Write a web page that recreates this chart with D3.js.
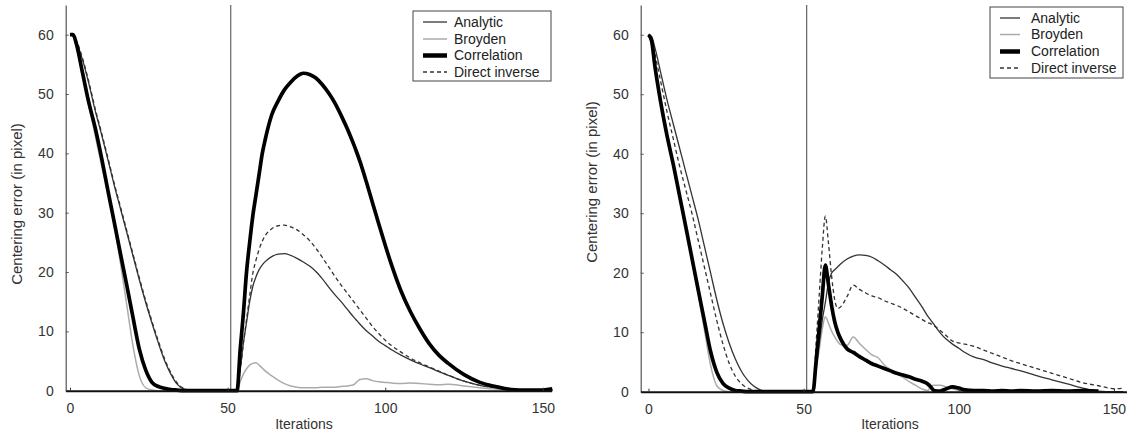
<!DOCTYPE html>
<html><head><meta charset="utf-8">
<script src="https://cdn.jsdelivr.net/npm/d3@7"></script>
<style>
body{margin:0;background:#fff}
svg{display:block}
text{font-family:"Liberation Sans",Arial,Helvetica,sans-serif}
</style></head>
<body><svg id="c" width="1127" height="436"></svg>
<script>
// ---------- DATA ----------
const iterations = [0,1,2,4,6,8,10,12,14,16,18,20,22,24,26,28,30,32,34,36,38,40,45,50,53,
  54,55,56,57,58,59,60,61,62,64,66,68,70,72,74,76,78,80,82,84,86,88,90,91,92,94,96,98,100,102,105,108,111,114,117,120,125,130,135,140,145,150,153];

const seriesNames = ["Analytic","Broyden","Correlation","Direct inverse"];
const xTicks = [0,50,100,150];
const yTicks = [0,10,20,30,40,50,60];
const switchIteration = 51;

// Left panel
const leftAnalytic = [60,59.8,58.8,55.7,51.7,47.2,43.2,39,34.7,30.7,26.7,22.7,18.7,14.9,11.4,8.1,5.1,2.8,1.1,0.3,0.1,0,0,0,0,
  3.5,8,11.5,15,17.6,19.2,20.4,21.2,21.8,22.6,23,23.1,22.8,22.3,21.7,21,20.1,18.9,17.5,16.2,15,13.7,12.4,11.8,11.2,10.1,9.2,8.3,7.6,6.9,6.0,5.2,4.5,3.9,3.2,2.6,1.6,0.9,0.5,0.2,0.1,0,0.1];
const leftBroyden = [60,60,58,53,48,43,38,33.5,28,21.5,14.5,7.5,2.5,0.5,0.1,0,0,0,0,0,0,0,0,0,0,
  1.5,2.8,3.7,4.3,4.6,4.7,4.3,3.8,3.3,2.5,1.8,1.2,0.8,0.6,0.5,0.5,0.5,0.6,0.6,0.6,0.7,0.8,1.0,1.5,1.9,2.0,1.7,1.5,1.4,1.3,1.2,1.3,1.2,1.1,1.0,1.1,0.8,0.5,0.3,0.2,0.1,0.1,0.1];
const leftCorrelation = [60,60,58.5,53.5,48.5,44.3,39.3,33.8,28.5,23.1,17.8,12.3,7.0,3.5,1.4,0.7,0.4,0.2,0.1,0,0,0,0,0,0,
  7,13,20,25,29.5,33,36.5,40,42.5,46.5,48.8,50.7,52,53,53.5,53.3,52.7,51.6,50.2,48.5,46.4,44.1,41.5,40.1,38.6,35.2,31.6,28,24.5,21.2,16.8,13.3,10.4,7.9,6.0,4.6,2.7,1.4,0.7,0.2,0.1,0.1,0.3];
const leftDirect = [60,59.8,59,56,52,47.5,43.5,39.3,35,31,27,23,19,15.2,11.7,8.4,5.4,3.0,1.3,0.4,0.1,0,0,0,0,
  3.5,8,12,16,19.8,22,23.8,25.2,26.2,27.3,27.8,27.9,27.6,27.1,26.3,25.3,24,22.5,20.9,19.3,17.8,16.4,15,14.3,13.6,12.2,10.8,9.6,8.5,7.6,6.5,5.5,4.7,4.0,3.3,2.6,1.6,0.9,0.5,0.2,0.1,0,0.1];

// Right panel
const rightAnalytic = [60,59.7,58,53.5,49,45,41,37,33,29,24.5,20,15.5,11.5,8.2,5.5,3.4,1.9,0.9,0.3,0,0,0,0,0,
  4,8,12,15,18.3,19.9,20.5,21,21.5,22.3,22.8,23,22.9,22.6,22,21.3,20.5,19.7,18.6,17.4,15.9,14.4,12.7,12,11.3,9.9,8.8,8.0,7.3,6.6,5.8,5.4,4.8,4.3,3.9,3.5,2.7,2.0,1.3,0.6,0.1,0,0];
const rightBroyden = [60,59,55,48.5,43,38,33,27.5,22,16.5,10.5,4.5,1.0,0.2,0,0,0,0,0,0,0,0,0,0,0,
  3.5,7,10.5,12.6,11.5,10.2,9.2,8.4,7.9,7.8,9.2,8.1,7.1,6.2,5.7,4.5,3.7,3.0,2.4,1.7,1.1,0.5,0.2,0.9,1.1,1.1,0.8,0.5,0.2,0.1,0,0,0,0,0,0,0,0,0,0,0,0,0];
const rightCorrelation = [60,59,55,48.5,43,38.2,33,27.8,22.5,17.2,12,6.8,3.3,1.4,0.6,0.2,0.1,0,0,0,0,0,0,0,0,
  5,10.5,16,21.3,18,14.5,11.8,10,8.8,7.2,6.6,5.9,5.3,4.7,4.3,3.9,3.5,3.1,2.8,2.5,2.1,1.8,1.3,0.8,0.2,0.1,0.5,0.8,0.6,0.3,0.2,0.2,0.1,0.2,0.1,0.2,0.1,0.2,0.1,0.2,0.1,null,null];
const rightDirect = [60,59.5,57,52,47,42.5,38,34,30,25.5,21,16.5,12,8,4.8,2.6,1.3,0.6,0.2,0,0,0,0,0,0,
  8,16,24,29.5,25,19.5,15.5,14,14.3,16,17.9,17.2,16.6,16.1,15.8,15.3,14.9,14.5,14,13.4,12.8,12.2,11.6,11.4,11.1,10.3,9.4,8.5,8.2,8.0,7.6,7.0,6.4,5.8,5.2,4.7,3.9,3.1,2.3,1.5,1.0,0.5,0.6];

// ---------- STYLE ----------
const styles = {
  "Analytic":       {stroke:"#333", width:1.3, dash:null},
  "Broyden":        {stroke:"#ababab", width:1.5, dash:null},
  "Correlation":    {stroke:"#000", width:3.7, dash:null},
  "Direct inverse": {stroke:"#333", width:1.3, dash:"4,3"}
};
const drawOrder = ["Broyden","Analytic","Direct inverse","Correlation"];

const panels = [
  {x0:65.7, x1:551.7, yb:390.7, yt:5, xDom:[-1.36,152.8],
   data:{"Analytic":leftAnalytic,"Broyden":leftBroyden,"Correlation":leftCorrelation,"Direct inverse":leftDirect},
   legend:{x:413,y:11,w:138,h:70,lx0:423,lx1:447,tx:454,rows:[22,39,55.5,72]},
   titleX:17, titleY:204, iterX:304},
  {x0:640.7, x1:1127, yb:391.7, yt:5, xDom:[-2.5,154.2],
   data:{"Analytic":rightAnalytic,"Broyden":rightBroyden,"Correlation":rightCorrelation,"Direct inverse":rightDirect},
   legend:{x:990,y:7,w:133,h:71,lx0:1000,lx1:1020,tx:1031,rows:[18,34.5,51.5,68]},
   titleX:592, titleY:182, iterX:890}
];

const svg = d3.select("#c");

panels.forEach(p => {
  const x = d3.scaleLinear().domain(p.xDom).range([p.x0, p.x1]);
  const y = d3.scaleLinear().domain([0,65]).range([p.yb, p.yt]);
  const g = svg.append("g");

  // y axis
  const ya = g.append("g").attr("transform",`translate(${p.x0},0)`)
    .call(d3.axisLeft(y).tickValues(yTicks).tickSizeInner(-3).tickSizeOuter(0).tickPadding(12));
  ya.select(".domain").attr("stroke","#555").attr("stroke-width",1.2);
  ya.selectAll(".tick line").attr("stroke","#555");
  ya.selectAll(".tick text").attr("fill","#333").attr("font-size",14)
    .attr("font-family","'Liberation Sans',Arial,sans-serif");

  // separator line
  g.append("line").attr("x1",x(switchIteration)).attr("x2",x(switchIteration))
    .attr("y1",y(65)).attr("y2",y(0)).attr("stroke","#444").attr("stroke-width",1);

  // series
  drawOrder.forEach(name => {
    const vals = p.data[name];
    const st = styles[name];
    const pts = iterations.map((it,i)=>[it, vals[i]]);
    const line = d3.line().defined(d=>d[1]!==null).x(d=>x(d[0])).y(d=>y(d[1])).curve(d3.curveMonotoneX);
    g.append("path").attr("d", line(pts)).attr("fill","none")
      .attr("stroke",st.stroke).attr("stroke-width",st.width)
      .attr("stroke-linejoin","round")
      .attr("stroke-dasharray", st.dash);
  });

  // x axis
  const xa = g.append("g").attr("transform",`translate(0,${p.yb})`)
    .call(d3.axisBottom(x).tickValues(xTicks).tickSizeInner(-3).tickSizeOuter(0).tickPadding(12));
  xa.select(".domain").attr("stroke","#111").attr("stroke-width",2);
  xa.selectAll(".tick line").attr("stroke","#333");
  xa.selectAll(".tick text").attr("fill","#333").attr("font-size",14)
    .attr("font-family","'Liberation Sans',Arial,sans-serif");

  // titles
  g.append("text").attr("transform",`translate(${p.titleX},${p.titleY}) rotate(-90)`)
    .attr("text-anchor","middle").attr("dy","0.35em").attr("font-size",15).attr("fill","#333")
    .text("Centering error (in pixel)");
  g.append("text").attr("x",p.iterX).attr("y",429).attr("text-anchor","middle")
    .attr("font-size",14).attr("fill","#333").text("Iterations");

  // legend
  const L = p.legend;
  g.append("rect").attr("x",L.x).attr("y",L.y).attr("width",L.w).attr("height",L.h)
    .attr("fill","#fff").attr("stroke","#444").attr("stroke-width",1);
  seriesNames.forEach((name,i) => {
    const st = styles[name];
    g.append("line").attr("x1",L.lx0).attr("x2",L.lx1).attr("y1",L.rows[i]).attr("y2",L.rows[i])
      .attr("stroke",st.stroke).attr("stroke-width",name==="Correlation"?4.5:st.width)
      .attr("stroke-dasharray",st.dash);
    g.append("text").attr("x",L.tx).attr("y",L.rows[i]).attr("dy","0.35em")
      .attr("font-size",14).attr("fill","#222").text(name);
  });
});
</script></body></html>
